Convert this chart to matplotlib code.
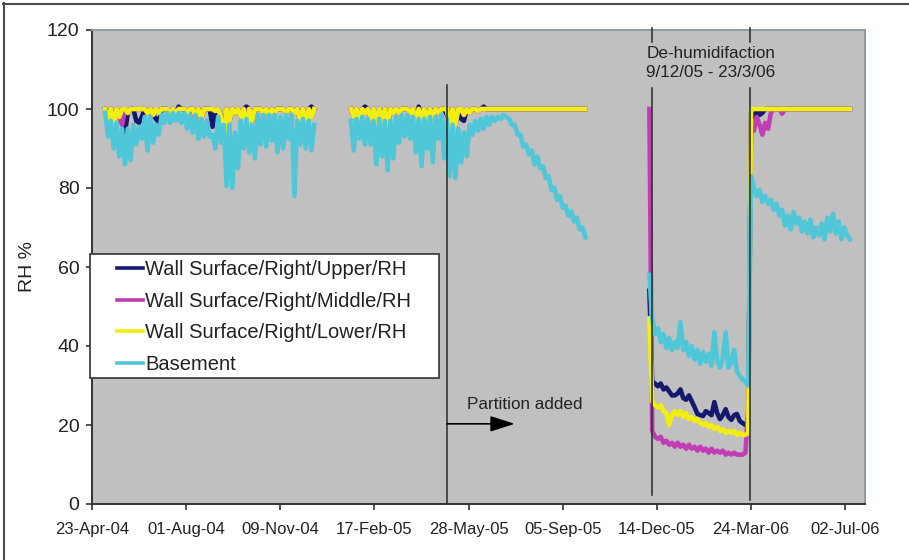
import matplotlib
matplotlib.use("Agg")
import matplotlib.pyplot as plt
import pandas as pd
from matplotlib.patches import Rectangle
from matplotlib.lines import Line2D

plt.rcParams['font.family'] = ['Liberation Sans', 'DejaVu Sans']

# ---------------------------------------------------------------------------
# Logged relative humidity (%), one reading every 3 days in each logging period
# ---------------------------------------------------------------------------
STEP_DAYS = 3
period_starts = ['2004-05-07', '2005-01-23', '2005-12-06']

series_names = ['Wall Surface/Right/Upper/RH', 'Wall Surface/Right/Middle/RH',
                'Wall Surface/Right/Lower/RH', 'Basement']
series_colors = ['#15196e', '#c23db4', '#f2ee10', '#4fc7d9']

# period 1: May 2004 - Dec 2004
upper_p1 = [100, 97, 100, 96, 100, 98, 100, 94, 99, 100,
            100, 97, 96.5, 98, 100, 99, 100, 98.5, 97.5, 96.5,
            100, 100, 100, 99, 100, 98.5, 100.6, 100, 100, 99,
            100, 100, 98, 100, 97.5, 100, 100, 100, 95.5, 99.5,
            100, 98, 91.5, 100, 97, 100, 99, 100, 98, 100,
            100.6, 100, 97, 100, 100, 100, 99, 100, 98.5, 100,
            99, 100, 100, 100, 99, 100, 100, 99, 100, 97,
            100, 96.5, 100, 100.6, 100]
middle_p1 = [100, 97, 100, 96, 100, 98, 96, 100, 99, 100,
             100, 100, 100, 100, 100, 99, 100, 98.5, 100, 99,
             100, 100, 100, 99, 100, 98.5, 100, 100, 100, 99,
             100, 94.5, 98, 100, 97.5, 100, 100, 100, 100, 99.5,
             100, 98, 91.5, 100, 97, 100, 99, 100, 98, 100,
             99.5, 100, 97, 100, 100, 100, 99, 100, 98.5, 100,
             99, 100, 100, 100, 99, 100, 100, 99, 100, 97,
             100, 96.5, 100, 98, 100]
lower_p1 = [100, 97, 100, 96, 100, 98, 100, 100, 99, 100,
            100, 100, 100, 100, 100, 99, 100, 98.5, 100, 99,
            100, 100, 100, 99, 100, 98.5, 100, 100, 100, 99,
            100, 100, 98, 100, 97.5, 100, 100, 100, 100, 99.5,
            100, 98, 91.5, 100, 97, 100, 99, 100, 98, 100,
            95, 100, 97, 100, 100, 100, 99, 100, 98.5, 100,
            99, 100, 100, 100, 99, 100, 100, 99, 100, 97,
            100, 96.5, 100, 98, 100]
basement_p1 = [99, 93, 97, 90, 96.5, 88, 95, 86, 95, 87,
               96, 91, 95.5, 92.5, 98, 89.5, 98, 91.5, 96, 93.5,
               98.5, 96.5, 99, 96.5, 99, 97, 99, 96.5, 99, 95,
               98.5, 94, 98.5, 92.5, 97.5, 93, 97, 93, 93.5, 90,
               98, 91.5, 96, 80.5, 96, 80, 94, 85, 97, 90,
               97.5, 89, 96, 87.5, 98.5, 91, 98.5, 90.5, 98.5, 92,
               98.5, 89, 98, 90, 98.5, 92.5, 98.5, 78, 97, 91,
               97.5, 90, 97, 89.5, 96]

# period 2: Jan 2005 - Sep 2005
upper_p2 = [100, 98, 100, 97, 100, 100.6, 100, 97.5, 100, 96.5,
            100, 97, 100, 95.5, 100, 99, 100, 99, 100, 100,
            100, 99, 100, 96, 100.6, 97.5, 100, 97.5, 100, 98,
            100, 99, 100, 100, 98.5, 95, 100, 96, 100, 97.5,
            97, 100, 99, 100, 100, 99.5, 100, 100.6, 100, 100,
            100, 100, 100, 100, 100, 100, 100, 100, 100, 100,
            100, 100, 100, 100, 100, 100, 100, 100, 100, 100,
            100, 100, 100, 100, 100, 100, 100, 100, 100, 100,
            100, 100, 100, 100]
middle_p2 = [100, 98, 100, 97, 100, 99, 100, 97.5, 100, 96.5,
             100, 97, 100, 95.5, 100, 99, 100, 99, 100, 100,
             100, 99, 100, 96, 100, 97.5, 100, 97.5, 100, 98,
             100, 99, 100, 100, 100, 95, 100, 96, 100, 100,
             98.5, 100, 99, 100, 100, 99.5, 100, 100, 100, 100,
             100, 100, 100, 100, 100, 100, 100, 100, 100, 100,
             100, 100, 100, 100, 100, 100, 100, 100, 100, 100,
             100, 100, 100, 100, 100, 100, 100, 100, 100, 100,
             100, 100, 100, 100]
lower_p2 = [100, 98, 100, 97, 100, 99, 100, 97.5, 100, 96.5,
            100, 97, 100, 95.5, 100, 99, 100, 99, 100, 100,
            100, 99, 100, 96, 100, 97.5, 100, 97.5, 100, 98,
            100, 99, 100, 100, 100, 95, 100, 96, 100, 100,
            98.5, 100, 99, 100, 100, 99.5, 100, 100, 100, 100,
            100, 100, 100, 100, 100, 100, 100, 100, 100, 100,
            100, 100, 100, 100, 100, 100, 100, 100, 100, 100,
            100, 100, 100, 100, 100, 100, 100, 100, 100, 100,
            100, 100, 100, 100]
basement_p2 = [97, 89.5, 97.5, 92.5, 98, 91, 97.5, 91, 97, 86,
               97.5, 88, 97, 84.5, 97, 87.5, 98, 91.5, 98.5, 93,
               98.5, 92.5, 98, 89, 97.5, 85.5, 97.5, 90, 98, 86.5,
               98, 92.5, 98.5, 87.5, 97.5, 83, 96, 82.5, 95, 86.5,
               94, 88, 96, 93.5, 97, 94.5, 97.5, 95, 98, 96,
               98, 97, 98, 97.5, 98.5, 98, 97.5, 96, 96, 93.5,
               93.5, 90.5, 91, 88.5, 89.5, 86, 88, 85, 85.5, 82.5,
               83, 79.5, 80, 77, 78, 75, 75.5, 73, 74, 71.5,
               72.5, 69.5, 70, 67.5]

# period 3: Dec 2005 - Jul 2006 (de-humidification 9/12/05 - 23/3/06)
upper_p3 = [54,
            31, 30.5, 29.8, 30.5, 29, 29.5, 28.5, 27.5, 27.5, 28,
            29, 26.8, 26.4, 27.5, 26, 24.5, 22.8, 22.5, 22.3, 23.5,
            23, 22.5, 25.8, 23, 21.5, 22.5, 24, 22, 21.3, 22.5,
            22.8, 21, 20.5, 20, 20.5,
            99, 98, 100, 98.5, 99, 100, 100, 100, 100, 100,
            100, 100, 100, 100, 100, 100, 100, 100, 100, 100,
            100, 100, 100, 100, 100, 100, 100, 100, 100, 100,
            100, 100, 100, 100, 100, 100]
middle_p3 = [100,
             18.5, 17, 16.5, 17, 15.5, 16, 15, 15.5, 14.5, 15.5,
             14.5, 15, 14, 15, 14, 14.5, 13.5, 14.5, 13.5, 14,
             13, 14, 13, 13.5, 13, 13.5, 12.5, 13, 12.5, 13,
             12.5, 12.5, 12.5, 13, 24,
             97, 94.5, 98, 96, 93.5, 96.5, 95, 99, 100, 100,
             100, 98.8, 100, 100, 100, 100, 100, 100, 100, 100,
             100, 100, 100, 100, 100, 100, 100, 100, 100, 100,
             100, 100, 100, 100, 100, 100]
lower_p3 = [47,
            26, 25, 24.5, 25, 23.5, 23, 20, 22.5, 23.5, 22.5,
            23.5, 22, 23, 21.5, 22, 21, 21.5, 20.5, 20, 20.5,
            19.5, 20, 19, 19.5, 18.5, 19, 18, 18.5, 18, 18.5,
            17.5, 18, 17.5, 17.5, 18,
            100, 100, 100, 100, 100, 100, 100, 100, 100, 100,
            100, 100, 100, 100, 100, 100, 100, 100, 100, 100,
            100, 100, 100, 100, 100, 100, 100, 100, 100, 100,
            100, 100, 100, 100, 100, 100]
basement_p3 = [58,
               47, 43, 44.5, 41, 43, 39.5, 42, 39, 41, 39.5,
               46, 39, 41, 37.5, 40, 36.5, 39, 35.5, 38.5, 36,
               38, 35, 43.5, 36, 34.5, 37, 43.5, 34.5, 36, 39,
               33.5, 32.5, 31.5, 31, 30,
               83, 80, 78, 79.5, 76.5, 78, 76, 77, 74.5, 76,
               73, 74.5, 70.5, 73, 69.5, 74, 71, 72.5, 69, 71.5,
               68.5, 72, 67.5, 70, 68, 71, 67, 72.5, 69, 73.5,
               68.5, 71.5, 67, 70, 68, 67]

series_periods = [
    [upper_p1, upper_p2, upper_p3],
    [middle_p1, middle_p2, middle_p3],
    [lower_p1, lower_p2, lower_p3],
    [basement_p1, basement_p2, basement_p3],
]

# x-axis: ticks every 100 days from the start of monitoring
x_start = pd.Timestamp('2004-04-23')
x_tick_labels = ['23-Apr-04', '01-Aug-04', '09-Nov-04', '17-Feb-05', '28-May-05',
                 '05-Sep-05', '14-Dec-05', '24-Mar-06', '02-Jul-06']
y_ticks = [0, 20, 40, 60, 80, 100, 120]

# events
partition_date = pd.Timestamp('2005-05-05')
dehum_start = pd.Timestamp('2005-12-09')
dehum_end = pd.Timestamp('2006-03-23')

# ---------------------------------------------------------------------------
W, H, DPI = 909, 560, 100
fig = plt.figure(figsize=(W / DPI, H / DPI), dpi=DPI, facecolor='white')
ax = fig.add_axes([92 / W, 56 / H, 773 / W, 474 / H])
ax.set_facecolor('#c0c0c0')

text_color = '#222222'
mark_color = '#2e3838'
LINE_W = 3.3

for periods, color, name in zip(series_periods, series_colors, series_names):
    for k, (start, vals) in enumerate(zip(period_starts, periods)):
        dates = pd.date_range(start, periods=len(vals), freq=f'{STEP_DAYS}D')
        ax.plot(dates, vals, color=color, lw=LINE_W, solid_joinstyle='round',
                label=name if k == 0 else None, zorder=2)

# axis limits / ticks
ax.set_xlim(x_start, x_start + pd.Timedelta(days=821))
ax.set_ylim(0, 120)
tick_dates = [pd.Timestamp(pd.to_datetime(t, format='%d-%b-%y')) for t in x_tick_labels]
ax.set_xticks(tick_dates)
ax.set_xticklabels(x_tick_labels, fontsize=12, color=text_color)
ax.set_yticks(y_ticks)
ax.set_yticklabels([str(v) for v in y_ticks], fontsize=14, color=text_color)
ax.tick_params(axis='x', length=4, width=1.2, color='#333333', pad=9)
ax.tick_params(axis='y', length=4, width=1.2, color='#333333', pad=5)

for side in ('left', 'bottom'):
    ax.spines[side].set_color('#333333')
    ax.spines[side].set_linewidth(1.4)
for side in ('top', 'right'):
    ax.spines[side].set_color('#8c9ba2')
    ax.spines[side].set_linewidth(1.4)

ax.set_ylabel('RH %', fontsize=14, color=text_color)
ax.yaxis.set_label_coords(-0.073, 0.5)

# partition marker and arrow
ax.plot([partition_date, partition_date], [0, 106], color=mark_color, lw=1.2, zorder=3)
ax.annotate('', xy=(pd.Timestamp('2005-07-16'), 20.3),
            xytext=(partition_date, 20.3),
            arrowprops=dict(arrowstyle='-|>,head_length=0.75,head_width=0.24',
                            mutation_scale=20, color='black', lw=1.2,
                            shrinkA=0, shrinkB=0), zorder=3)
ax.text(pd.Timestamp('2005-05-26'), 25.1, 'Partition added', fontsize=12.3,
        color=text_color, ha='left', va='center')

# de-humidification period markers
for d, bottom in ((dehum_start, 2.3), (dehum_end, 1.0)):
    ax.plot([d, d], [bottom, 105.3], color=mark_color, lw=1.2, zorder=3)
    ax.plot([d, d], [117.0, 120.5], color=mark_color, lw=1.2, zorder=3, clip_on=False)
ax.text(pd.Timestamp('2006-02-09'), 111.6, 'De-humidifaction\n9/12/05 - 23/3/06',
        fontsize=12.3, color=text_color, ha='center', va='center', linespacing=1.3)

# legend on a white box
ax.add_patch(Rectangle((-0.0026, 0.2658), 0.4515, 0.2616, transform=ax.transAxes,
                       facecolor='white', edgecolor='#333333', lw=1.2,
                       clip_on=False, zorder=4))
leg = ax.legend(loc='upper left', bbox_to_anchor=(0.022, 0.531), frameon=False,
                fontsize=14.5, handlelength=1.3, handletextpad=0.1,
                labelspacing=0.62, borderpad=0.4, borderaxespad=0)
leg.set_zorder(5)
for t in leg.get_texts():
    t.set_color(text_color)
for h in leg.get_lines():
    h.set_linewidth(2.6)

# outer frame (left and top edges)
fig.add_artist(Line2D([3.5 / W, 3.5 / W], [0, 1 - 3 / H], color='#4a4a4a', lw=1.5,
                      transform=fig.transFigure))
fig.add_artist(Line2D([3 / W, 1], [1 - 3.5 / H, 1 - 3.5 / H], color='#4a4a4a', lw=1.5,
                      transform=fig.transFigure))

fig.savefig('out.png', dpi=DPI, facecolor='white')
